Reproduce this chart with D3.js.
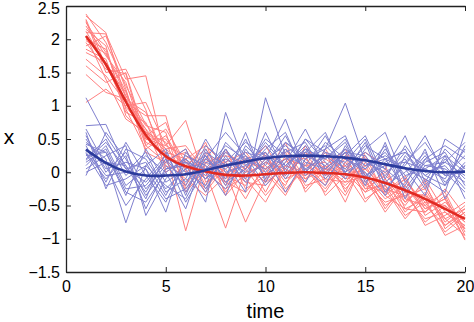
<!DOCTYPE html>
<html><head><meta charset="utf-8">
<script src="https://cdn.jsdelivr.net/npm/d3@7"></script>
<style>html,body{margin:0;padding:0;background:#fff;}svg{display:block;}</style>
</head><body>
<script>
const times = [1,2,3,4,5,6,7,8,9,10,11,12,13,14,15,16,17,18,19,20];
const xTicks = [0,5,10,15,20];
const xTickLabels = ["0","5","10","15","20"];
const yTicks = [-1.5,-1,-0.5,0,0.5,1,1.5,2,2.5];
const yTickLabels = ["\u22121.5","\u22121","\u22120.5","0","0.5","1","1.5","2","2.5"];

const redRuns = [
[2.38,1.95,1.30,0.72,0.35,0.10,-0.25,0.15,-0.10,0.20,-0.05,0.30,0.05,-0.20,0.10,-0.35,-0.10,-0.55,-0.40,-0.85],
[2.25,1.80,1.15,0.60,0.45,-0.20,0.25,-0.30,0.10,-0.15,0.35,-0.10,0.20,0.00,-0.30,0.05,-0.45,-0.20,-0.70,-0.55],
[2.10,2.08,1.40,1.45,0.20,0.30,0.05,-0.15,0.25,0.05,-0.30,0.15,-0.20,0.25,-0.05,-0.40,-0.20,-0.60,-0.35,-0.95],
[1.95,1.55,1.48,0.40,0.65,0.15,-0.10,0.35,-0.25,-0.05,0.20,-0.25,0.10,-0.15,0.20,-0.10,-0.60,-0.30,-0.80,-0.60],
[1.85,1.70,0.90,0.75,0.10,-0.05,0.30,-0.20,0.05,0.40,-0.10,0.05,-0.30,0.15,-0.25,-0.05,-0.30,-0.75,-0.50,-1.00],
[2.30,1.60,1.20,0.50,0.40,0.78,-0.15,0.05,-0.40,0.15,0.05,-0.15,0.35,-0.10,0.00,-0.55,-0.15,-0.45,-0.90,-0.65],
[1.70,1.45,1.05,0.85,0.85,-0.25,0.10,-0.10,0.20,-0.30,0.25,0.20,-0.05,0.30,-0.40,-0.20,-0.50,-0.10,-0.60,-0.80],
[2.00,1.85,0.95,0.35,0.55,0.05,0.45,-0.35,0.00,0.10,-0.20,0.40,0.00,-0.35,0.15,-0.30,-0.05,-0.65,-0.45,-0.75],
[1.47,1.20,1.10,0.65,0.00,0.20,-0.30,0.10,-0.15,-0.20,0.10,-0.05,0.25,0.05,-0.15,-0.45,-0.35,-0.25,-0.75,-0.50],
[2.20,1.75,1.35,0.45,0.30,-0.88,0.15,0.25,0.15,0.05,0.30,-0.20,-0.10,0.20,-0.20,0.00,-0.40,-0.50,-0.30,-0.90],
[1.05,1.25,1.00,1.05,0.40,0.25,0.00,-0.84,0.05,0.25,-0.15,0.10,0.15,-0.25,0.05,-0.25,-0.70,-0.35,-0.55,-0.70],
[2.15,1.90,0.85,0.55,0.75,0.00,0.20,0.00,-0.75,-0.10,0.15,0.30,-0.15,0.10,-0.30,-0.15,-0.25,-0.80,-0.65,-0.45],
[1.90,2.05,1.25,0.30,0.15,0.35,-0.20,0.20,0.05,-0.35,0.00,-0.05,0.10,-0.45,0.25,-0.35,-0.55,-0.40,-0.95,-0.80],
[2.28,1.50,1.55,0.94,0.05,0.10,0.35,-0.05,-0.20,0.30,-0.25,0.05,-0.25,0.15,-0.10,-0.60,-0.20,-0.55,-0.40,-1.02],
[1.80,1.65,1.15,0.70,0.60,-0.30,0.05,0.15,0.30,-0.05,0.45,-0.30,0.05,0.00,-0.45,-0.10,-0.45,-0.15,-0.85,-0.60],
[2.05,1.40,0.80,0.60,0.35,0.40,0.00,-0.25,-0.05,0.15,-0.05,0.25,-0.35,-0.05,0.05,-0.25,-0.35,-0.70,-0.60,-0.85],
[2.35,2.10,1.10,0.90,0.20,0.15,-0.05,0.30,0.10,-0.15,0.05,-0.10,0.05,0.35,-0.25,-0.20,-0.65,-0.45,-0.50,-0.75],
[1.60,1.35,1.50,0.50,0.50,0.05,0.15,-0.15,-0.30,0.05,0.20,0.10,-0.10,-0.15,-0.05,-0.50,-0.30,-0.35,-0.70,-0.95],
[2.12,1.62,0.98,0.65,0.30,0.20,0.40,0.10,-0.10,-0.45,0.10,0.00,0.30,-0.30,0.30,0.10,-0.55,-0.60,-0.25,-0.65],
[1.98,1.78,1.22,0.40,0.15,-0.10,-0.35,-0.05,0.20,0.00,-0.35,0.20,-0.05,0.10,-0.20,-0.30,-0.10,-0.50,-0.80,-0.55]
];

const blueRuns = [
[1.12,0.55,0.10,-0.30,0.20,-0.15,0.25,-0.20,0.40,0.10,0.55,0.00,0.45,0.20,0.05,0.30,-0.10,0.25,-0.15,0.10],
[0.70,0.72,0.05,0.15,-0.35,0.20,-0.10,0.30,0.05,0.45,0.10,0.35,0.20,0.50,-0.05,0.15,0.35,-0.20,0.20,-0.10],
[0.45,0.20,-0.76,0.10,-0.20,-0.40,0.15,0.05,0.30,0.20,0.40,0.15,0.05,0.30,0.25,-0.15,0.10,0.55,-0.05,0.25],
[0.30,-0.10,0.25,-0.55,0.05,0.10,-0.30,0.35,-0.10,0.60,0.00,0.50,0.30,0.05,0.40,0.20,-0.25,0.15,0.30,-0.20],
[0.10,0.40,-0.20,0.05,-0.60,0.30,0.00,-0.25,0.20,0.05,0.30,0.45,-0.05,0.35,0.10,0.25,0.05,-0.10,-0.30,0.60],
[0.55,0.00,0.30,-0.25,0.10,-0.20,0.40,0.15,-0.30,1.12,0.25,0.10,0.55,0.00,0.20,-0.05,0.30,0.10,0.15,-0.05],
[0.25,0.30,-0.35,0.35,-0.15,0.05,-0.45,0.90,0.10,0.30,-0.10,0.30,0.20,0.45,-0.10,0.35,-0.05,0.05,-0.10,0.35],
[0.00,0.15,0.10,-0.40,0.30,-0.30,0.20,-0.05,0.50,-0.10,0.45,0.20,0.35,1.04,0.15,0.00,0.20,-0.25,0.25,0.00],
[0.40,-0.15,0.45,-0.05,-0.45,0.15,0.05,0.20,0.00,0.35,0.60,-0.05,0.25,0.15,0.50,-0.20,0.00,0.30,-0.20,0.15],
[0.20,0.50,-0.05,0.25,0.00,-0.55,0.30,0.10,0.25,-0.20,0.15,0.65,0.05,0.30,-0.20,0.45,-0.30,0.10,0.05,-0.15],
[0.65,0.10,-0.50,-0.10,0.25,0.00,-0.20,0.45,0.15,0.25,-0.30,0.20,0.40,0.10,0.30,0.05,0.55,-0.15,0.35,0.05],
[0.05,0.25,0.40,-0.65,-0.10,0.25,0.10,-0.35,0.35,0.00,0.35,0.05,-0.20,0.40,-0.05,0.10,0.15,0.45,0.00,-0.30],
[0.35,-0.05,0.00,0.30,-0.30,-0.10,0.50,0.00,0.10,0.40,0.05,0.50,0.15,-0.10,0.35,0.60,-0.15,0.20,0.40,0.20],
[0.15,0.35,-0.25,-0.20,0.15,0.35,-0.25,0.25,-0.15,0.20,0.80,0.00,0.30,0.20,0.00,-0.35,0.25,-0.05,0.15,0.45],
[0.50,0.05,0.15,0.05,-0.40,-0.25,0.20,0.60,0.25,-0.05,0.20,0.30,0.60,-0.05,0.20,0.05,-0.20,0.35,-0.40,0.10],
[-0.05,0.60,0.20,-0.35,0.05,0.15,-0.10,0.15,0.45,0.25,0.10,0.40,-0.10,0.25,0.55,-0.10,0.40,0.00,0.10,-0.25],
[0.28,-0.20,-0.10,0.10,0.35,-0.35,0.35,-0.15,0.05,0.50,0.25,-0.15,0.35,0.55,-0.15,0.20,0.05,-0.35,0.50,0.30],
[0.42,0.30,-0.30,-0.45,0.00,0.20,-0.05,0.35,-0.05,0.15,0.45,0.25,0.10,0.35,0.05,0.40,-0.40,0.20,-0.05,0.00],
[0.60,-0.25,0.35,0.20,-0.25,0.05,0.25,-0.10,0.60,-0.15,0.35,0.05,0.25,0.00,0.45,-0.30,0.15,0.05,0.25,-0.40],
[0.18,0.45,0.05,-0.15,0.20,-0.45,0.05,0.40,0.20,0.30,-0.05,0.35,0.00,0.30,0.10,0.20,0.30,-0.05,-0.20,0.40]
];

const redMean = [2.05,1.62,1.06,0.56,0.24,0.09,0.01,-0.04,-0.05,-0.03,-0.01,0.00,-0.01,-0.03,-0.08,-0.16,-0.27,-0.40,-0.55,-0.70];
const blueMean = [0.34,0.14,0.01,-0.05,-0.05,-0.03,0.03,0.10,0.16,0.21,0.24,0.25,0.24,0.22,0.18,0.12,0.06,0.02,0.00,0.01];

const W = 474, H = 322;
const margin = {left: 66, right: 9, top: 6, bottom: 50};
const svg = d3.select("body").append("svg").attr("width", W).attr("height", H);

const x = d3.scaleLinear().domain([0, 20]).range([margin.left, W - margin.right]);
const y = d3.scaleLinear().domain([-1.5, 2.5]).range([H - margin.bottom, margin.top]);

const thin = d3.line().x((d, i) => x(times[i])).y(d => y(d));
const smooth = d3.line().x((d, i) => x(times[i])).y(d => y(d)).curve(d3.curveNatural);

const plot = svg.append("g");
plot.selectAll("path.red").data(redRuns).join("path").attr("class", "red")
  .attr("d", thin).attr("fill", "none").attr("stroke", "#ff8080").attr("stroke-width", 1);
plot.selectAll("path.blue").data(blueRuns).join("path").attr("class", "blue")
  .attr("d", thin).attr("fill", "none").attr("stroke", "#7f80cf").attr("stroke-width", 1);
plot.append("path").datum(redMean).attr("d", smooth).attr("fill", "none")
  .attr("stroke", "#e02a22").attr("stroke-width", 2.6);
plot.append("path").datum(blueMean).attr("d", smooth).attr("fill", "none")
  .attr("stroke", "#2b3b9c").attr("stroke-width", 2.6);

const font = "'Liberation Sans', Arial, Helvetica, sans-serif";
const tickLen = 5;
const axisColor = "#222";

const xAxisB = d3.axisBottom(x).tickValues(xTicks).tickFormat((d, i) => xTickLabels[i]).tickSizeInner(-tickLen).tickSizeOuter(0).tickPadding(9);
const xAxisT = d3.axisTop(x).tickValues(xTicks).tickFormat("").tickSizeInner(-tickLen).tickSizeOuter(0);
const yAxisL = d3.axisLeft(y).tickValues(yTicks).tickFormat((d, i) => yTickLabels[i]).tickSizeInner(-tickLen).tickSizeOuter(0).tickPadding(6);
const yAxisR = d3.axisRight(y).tickValues(yTicks).tickFormat("").tickSizeInner(-tickLen).tickSizeOuter(0);

function style(g) {
  g.selectAll("path.domain").attr("stroke", axisColor).attr("stroke-width", 1.3);
  g.selectAll(".tick line").attr("stroke", axisColor).attr("stroke-width", 1);
  g.selectAll(".tick text").attr("fill", "#000").style("font-family", font).style("font-size", "16px");
}
svg.append("g").attr("transform", `translate(0,${y(-1.5)})`).call(xAxisB).call(style);
svg.append("g").attr("transform", `translate(0,${y(2.5)})`).call(xAxisT).call(style);
const yl = svg.append("g").attr("transform", `translate(${x(0)},0)`).call(yAxisL).call(style);
// keep the top label inside the picture
yl.selectAll(".tick text").filter(d => d === 2.5).attr("dy", "0.45em");

svg.append("text").attr("x", (x(0) + x(20)) / 2).attr("y", 318).attr("text-anchor", "middle")
  .style("font-family", font).style("font-size", "20px").text("time");
// y-axis label "x" (symmetric glyph, kept upright so it stays fully inside the picture)
svg.append("text").attr("x", 9).attr("y", y(0.5) + 5).attr("text-anchor", "middle")
  .style("font-family", font).style("font-size", "21px").text("x");
</script>
</body></html>
